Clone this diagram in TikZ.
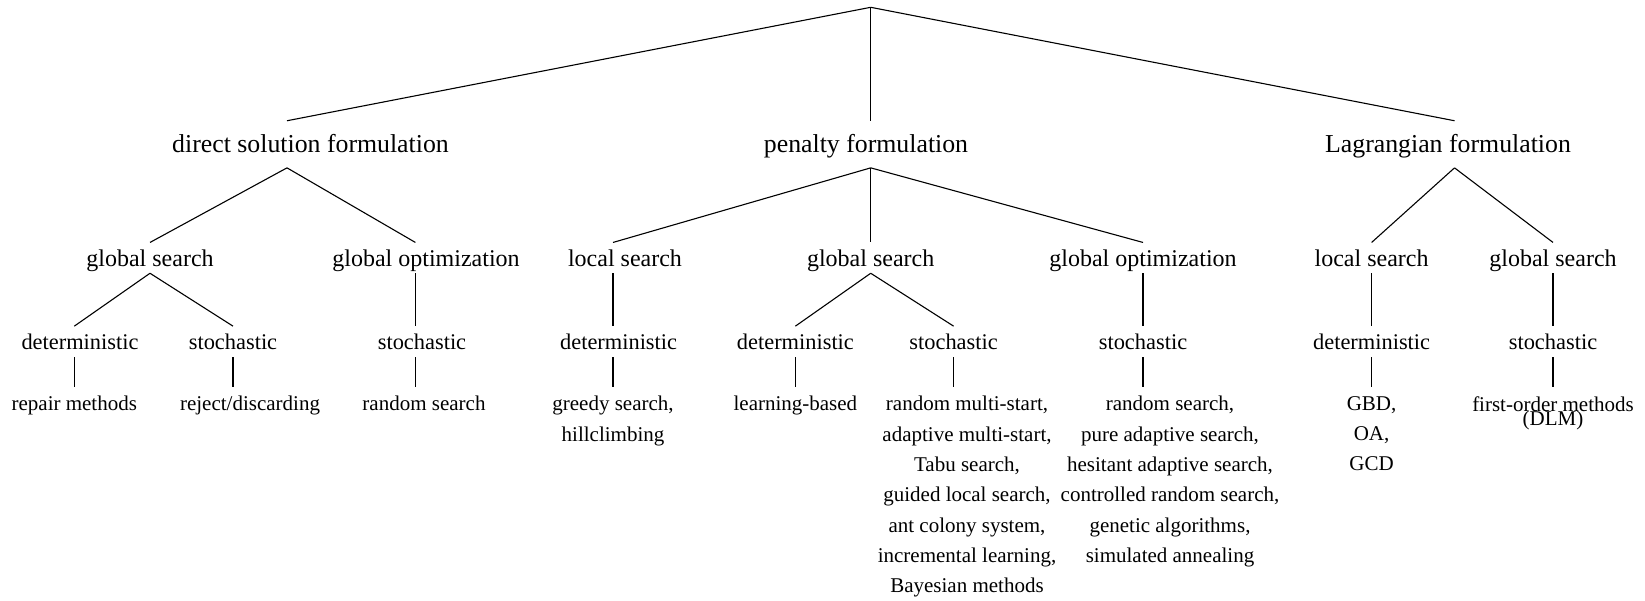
\documentclass[tikz,border=0pt]{standalone}
\usepackage{fontspec}
\setmainfont{Liberation Serif}

\begin{document}
\begin{tikzpicture}[x=1pt,y=-1pt,line width=1.1pt,
  formulation node/.style={font=\fontsize{25.8}{31}\selectfont,inner sep=0pt,anchor=base,text height=31pt,text depth=15pt},
  search node/.style={font=\fontsize{24}{29}\selectfont,inner sep=0pt,anchor=base,text height=23pt,text depth=6.7pt},
  method node/.style={font=\fontsize{22.4}{27}\selectfont,inner sep=0pt,anchor=base,text height=22.3pt,text depth=7.7pt},
  leaf node/.style={font=\fontsize{21}{30.3}\selectfont,inner xsep=0pt,inner ysep=9pt,anchor=north,align=center}]

  \useasboundingbox (0,0) rectangle (1645,600);
  \coordinate (top) at (870.7,7.3);

  % formulations
  \node[formulation node] (dsf) at (310.5,152.3) {direct solution formulation};
  \node[formulation node] (pen) at (866,152.3) {penalty formulation};
  \node[formulation node] (lag) at (1448,152.3) {Lagrangian formulation};

  % search strategies
  \node[search node] (gs1) at (150,266) {global search};
  \node[search node] (go1) at (426,266) {global optimization};
  \node[search node] (ls2) at (625,266) {local search};
  \node[search node] (gs2) at (870.7,266) {global search};
  \node[search node] (go2) at (1143,266) {global optimization};
  \node[search node] (ls3) at (1371.6,266) {local search};
  \node[search node] (gs3) at (1553,266) {global search};

  % deterministic / stochastic
  \node[method node] (det1) at (80,349) {deterministic};
  \node[method node] (sto1) at (233,349) {stochastic};
  \node[method node] (sto2) at (422,349) {stochastic};
  \node[method node] (det2) at (618.6,349) {deterministic};
  \node[method node] (det3) at (795.4,349) {deterministic};
  \node[method node] (sto3) at (953.6,349) {stochastic};
  \node[method node] (sto4) at (1143,349) {stochastic};
  \node[method node] (det4) at (1371.6,349) {deterministic};
  \node[method node] (sto5) at (1553,349) {stochastic};

  % methods
  \node[leaf node] (rep) at (74.3,386.7) {repair methods};
  \node[leaf node] (rej) at (250,386.7) {reject/discarding};
  \node[leaf node] (rs1) at (424,386.7) {random search};
  \node[leaf node] (greedy) at (613,386.7) {greedy search,\\hillclimbing};
  \node[leaf node] (learn) at (795.4,386.7) {learning-based};
  \node[leaf node] (multi) at (967,386.7) {random multi-start,\\adaptive multi-start,\\Tabu search,\\guided local search,\\ant colony system,\\incremental learning,\\Bayesian methods};
  \node[leaf node] (rs2) at (1170,386.7) {random search,\\pure adaptive search,\\hesitant adaptive search,\\controlled random search,\\genetic algorithms,\\simulated annealing};
  \node[leaf node] (gbd) at (1371.6,386.7) {GBD,\\OA,\\GCD};
  \node[leaf node] (fom) at (1553,386.7) {first-order methods\\[-16pt](DLM)};

  \path (top) edge ([xshift=-23.5pt]dsf.north)
              edge ([xshift=4.7pt]pen.north)
              edge ([xshift=6.5pt]lag.north);
  \path ([xshift=-23.5pt]dsf.south) edge (gs1.north)
                                    edge ([xshift=-10.6pt]go1.north);
  \path ([xshift=4.7pt]pen.south) edge ([xshift=-12pt]ls2.north)
                                  edge (gs2.north)
                                  edge (go2.north);
  \path ([xshift=6.5pt]lag.south) edge (ls3.north)
                                  edge (gs3.north);
  \path (gs1.south) edge ([xshift=-5.7pt]det1.north)
                    edge (sto1.north)
    ([xshift=-10.6pt]go1.south) edge ([xshift=-6.6pt]sto2.north)
    ([xshift=-12pt]ls2.south) edge ([xshift=-5.6pt]det2.north)
    (gs2.south) edge (det3.north)
                edge (sto3.north)
    (go2.south) edge (sto4.north)
    (ls3.south) edge (det4.north)
    (gs3.south) edge (sto5.north);
  \path ([xshift=-5.7pt]det1.south) edge (rep.north)
    (sto1.south) edge ([xshift=-17pt]rej.north)
    ([xshift=-6.6pt]sto2.south) edge ([xshift=-8.6pt]rs1.north)
    ([xshift=-5.6pt]det2.south) edge (greedy.north)
    (det3.south) edge (learn.north)
    (sto3.south) edge ([xshift=-13.4pt]multi.north)
    (sto4.south) edge ([xshift=-27pt]rs2.north)
    (det4.south) edge (gbd.north)
    (sto5.south) edge (fom.north);
\end{tikzpicture}
\end{document}
